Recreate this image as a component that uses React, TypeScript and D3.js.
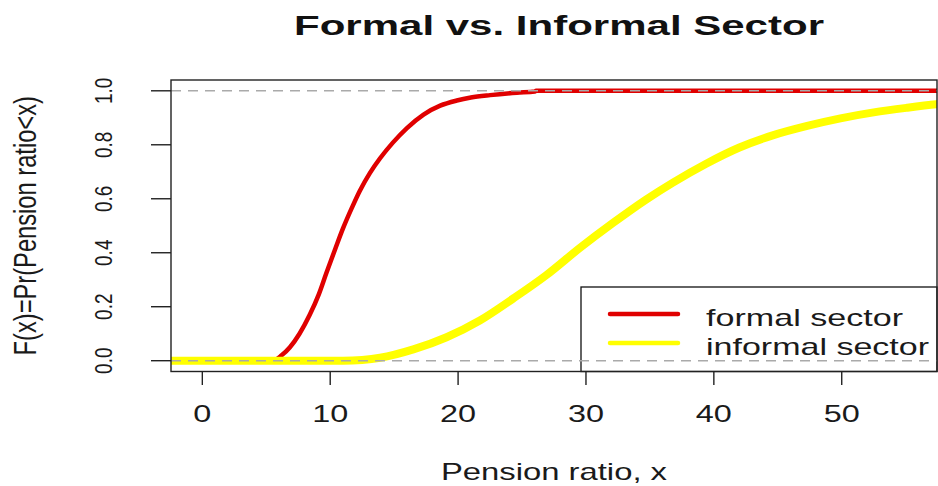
import React from "react";
import * as d3 from "d3";

// ---- data ----
const formalX = [-3, 5.5, 6.2, 6.85, 7.6, 8.4, 9.1, 9.7, 10.4, 11.0, 11.7, 12.3, 13.1, 13.9, 14.9, 16.0, 17.3, 18.6, 19.9, 21.0, 22.5, 24.6, 26.0, 26.1, 60];
const formalF = [0, 0, 0.02, 0.05, 0.1, 0.17, 0.245, 0.325, 0.415, 0.49, 0.567, 0.628, 0.695, 0.75, 0.808, 0.862, 0.912, 0.945, 0.964, 0.975, 0.984, 0.993, 0.997, 1, 1];

const informalX = [-3, 11, 12.5, 13.9, 16.5, 19.1, 21.7, 24.3, 26.9, 29.5, 32.1, 34.7, 36.8, 39.4, 42.0, 44.6, 47.3, 49.9, 52.5, 55.1, 57.4, 60];
const informalF = [0, 0, 0.003, 0.011, 0.042, 0.087, 0.149, 0.23, 0.317, 0.417, 0.51, 0.597, 0.66, 0.73, 0.79, 0.835, 0.87, 0.898, 0.92, 0.937, 0.95, 0.96];

const xTicks = [0, 10, 20, 30, 40, 50];
const yTicks = [0, 0.2, 0.4, 0.6, 0.8, 1.0];
const seriesNames = ["formal sector", "informal sector"];
const seriesColors = ["#e00000", "#ffff00"];
const titleText = "Formal vs. Informal Sector";
const xLabel = "Pension ratio, x";
const yLabel = "F(x)=Pr(Pension ratio<x)";

const W = 938;
const H = 486;
const plot = { left: 171, right: 937, top: 80, bottom: 371.5 };
const FONT = "'Liberation Sans', Arial, sans-serif";
const TXT = "#1a1a1a";

export default function App() {
  const x = d3.scaleLinear().domain([-2.45, 57.45]).range([plot.left, plot.right]);
  const y = d3.scaleLinear().domain([-0.04, 1.04]).range([plot.bottom, plot.top]);

  const line = d3
    .line<[number, number]>()
    .x((d) => x(d[0]))
    .y((d) => y(d[1]))
    .curve(d3.curveMonotoneX);

  const formalPts = formalX.map((v, i) => [v, formalF[i]] as [number, number]);
  const informalPts = informalX.map((v, i) => [v, informalF[i]] as [number, number]);

  const leg = { x0: 581, y0: 287, x1: plot.right, y1: plot.bottom };
  const legRows = [314, 343];

  return (
    <svg
      width={W}
      height={H}
      style={{ position: "absolute", left: 0, top: 0, display: "block", background: "#fff" }}
      fontFamily={FONT}
    >
      <defs>
        <clipPath id="plotclip">
          <rect x={plot.left} y={plot.top} width={plot.right - plot.left} height={plot.bottom - plot.top} />
        </clipPath>
      </defs>
      <rect x={0} y={0} width={W} height={H} fill="#fff" />

      {/* title */}
      <text
        x={559}
        y={35}
        textAnchor="middle"
        fontWeight="bold"
        fontSize={28}
        fill="#111"
        textLength={530}
        lengthAdjust="spacingAndGlyphs"
      >
        {titleText}
      </text>

      {/* curves */}
      <g clipPath="url(#plotclip)">
        <path d={line(formalPts) || ""} fill="none" stroke={seriesColors[0]} strokeWidth={4.5} />
        <path d={line(informalPts) || ""} fill="none" stroke={seriesColors[1]} strokeWidth={8} />
      </g>

      {/* legend */}
      <rect x={leg.x0} y={leg.y0} width={leg.x1 - leg.x0} height={leg.y1 - leg.y0} fill="none" stroke="#111" strokeWidth={1.3} />
      {seriesNames.map((name, i) => (
        <g key={name}>
          <line x1={610} x2={678} y1={legRows[i]} y2={legRows[i]} stroke={seriesColors[i]} strokeWidth={4.5} strokeLinecap="round" />
          <text
            x={706}
            y={legRows[i] + 12}
            fontSize={24}
            fill={TXT}
            textLength={i === 0 ? 197 : 223}
            lengthAdjust="spacingAndGlyphs"
          >
            {name}
          </text>
        </g>
      ))}

      {/* dashed reference lines */}
      {[0, 1].map((v) => (
        <line
          key={v}
          x1={plot.left}
          x2={plot.right}
          y1={y(v)}
          y2={y(v)}
          stroke="#aaaaaa"
          strokeWidth={1.4}
          strokeDasharray="10,7"
        />
      ))}

      {/* box */}
      <rect
        x={plot.left}
        y={plot.top}
        width={plot.right - plot.left}
        height={plot.bottom - plot.top}
        fill="none"
        stroke="#222"
        strokeWidth={1.4}
      />

      {/* x axis */}
      {xTicks.map((t) => (
        <g key={t}>
          <line x1={x(t)} x2={x(t)} y1={plot.bottom} y2={385} stroke="#222" strokeWidth={1.4} />
          <text
            transform={`translate(${x(t)},422) scale(1.35,1)`}
            textAnchor="middle"
            fontSize={24}
            fill={TXT}
          >
            {t}
          </text>
        </g>
      ))}
      <text
        x={554}
        y={480}
        textAnchor="middle"
        fontSize={24}
        fill={TXT}
        textLength={226}
        lengthAdjust="spacingAndGlyphs"
      >
        {xLabel}
      </text>

      {/* y axis */}
      {yTicks.map((t) => (
        <g key={t}>
          <line x1={151} x2={plot.left} y1={y(t)} y2={y(t)} stroke="#222" strokeWidth={1.4} />
          <text
            transform={`translate(112,${y(t)}) scale(1.22,1) rotate(-90)`}
            textAnchor="middle"
            fontSize={19}
            fill={TXT}
          >
            {d3.format(".1f")(t)}
          </text>
        </g>
      ))}
      <text
        transform={`translate(36,${(y(0) + y(1)) / 2}) scale(1.3,1) rotate(-90)`}
        textAnchor="middle"
        fontSize={23.7}
        fill={TXT}
      >
        {yLabel}
      </text>
    </svg>
  );
}
